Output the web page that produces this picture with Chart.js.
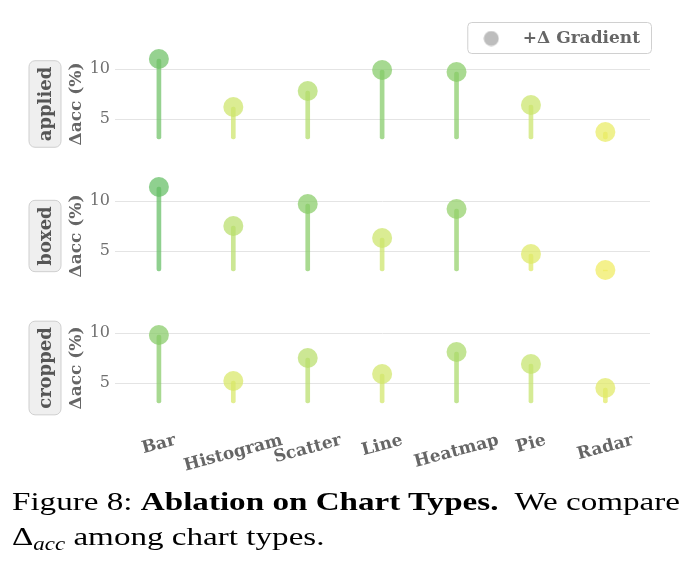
<!DOCTYPE html>
<html><head><meta charset="utf-8">
<script src="https://cdn.jsdelivr.net/npm/chart.js@4.4.1/dist/chart.umd.min.js"></script>
<style>
html,body{margin:0;padding:0;background:#fff;}
body{width:697px;height:572px;position:relative;overflow:hidden;}
canvas{position:absolute;left:0;}
#caption{position:absolute;left:12px;top:484px;font-family:'Liberation Serif','Times New Roman',serif;font-size:26px;line-height:35px;color:#000;white-space:nowrap;transform-origin:0 0;}
#caption .ln{display:inline-block;}
#caption sub{font-size:18px;vertical-align:-5px;line-height:0;}
</style></head><body>
<canvas id="c1" width="697" height="151" style="top:20px"></canvas>
<canvas id="c2" width="697" height="160" style="top:156px"></canvas>
<canvas id="c3" width="697" height="210" style="top:288px"></canvas>
<div id="caption"><span class="ln" id="l1">Figure 8: <b>Ablation on Chart Types.</b>&nbsp; We compare</span><br><span class="ln">Δ<sub><i>acc</i></sub> among chart types.</span></div>
<script>
const categories = ['Bar','Histogram','Scatter','Line','Heatmap','Pie','Radar'];
const appliedValues = [11.0, 6.2, 7.8, 9.9, 9.7, 6.4, 3.7];
const boxedValues   = [11.4, 7.5, 9.7, 6.3, 9.2, 4.7, 3.1];
const croppedValues = [9.8, 5.2, 7.5, 5.9, 8.1, 6.9, 4.5];
const stemBase = 3;
const yTickValues = [5, 10];
const panelNames = ['applied','boxed','cropped'];
const legendText = '+Δ Gradient';

const allVals = appliedValues.concat(boxedValues, croppedValues);
const vMin = Math.min(...allVals), vMax = Math.max(...allVals);
const stops = [[0,[240,236,96]],[0.45,[198,228,108]],[1,[100,190,100]]];
function colorFor(v, a){
  const t = Math.max(0, Math.min(1, (v - vMin)/(vMax - vMin)));
  let i = 0; while (i < stops.length-2 && t > stops[i+1][0]) i++;
  const [t0,c0] = stops[i], [t1,c1] = stops[i+1];
  const f = (t - t0)/(t1 - t0);
  const c = c0.map((x,k)=>Math.round(x + (c1[k]-x)*f));
  return `rgba(${c[0]},${c[1]},${c[2]},${a})`;
}

const FONT = "'DejaVu Serif', serif";

const sideBox = {
  id: 'sidebox',
  afterDraw(chart, args, opts){
    const {ctx, chartArea:a} = chart;
    const cy = (a.top + a.bottom)/2, cx = 45;
    ctx.save();
    ctx.font = `bold 18px ${FONT}`;
    const tw = ctx.measureText(opts.text).width;
    const h = tw + 12, w = 32;
    ctx.beginPath();
    ctx.roundRect(cx - w/2, cy - h/2, w, h, 6);
    ctx.fillStyle = '#efefef'; ctx.fill();
    ctx.strokeStyle = '#cfcfcf'; ctx.lineWidth = 1; ctx.stroke();
    ctx.translate(cx, cy); ctx.rotate(-Math.PI/2);
    ctx.fillStyle = '#555'; ctx.textAlign = 'center'; ctx.textBaseline = 'middle';
    ctx.fillText(opts.text, 0, 1);
    ctx.restore();
  }
};

const xLabels = {
  id: 'xlabels',
  afterDraw(chart){
    const {ctx, scales:{x, y}} = chart;
    ctx.save();
    ctx.font = `bold 17px ${FONT}`;
    ctx.fillStyle = '#666';
    const ang = 15*Math.PI/180;
    const top = y.getPixelForValue(stemBase) + 29;
    categories.forEach((c, i) => {
      const w = ctx.measureText(c).width;
      const hh = (w*Math.sin(ang) + 17*Math.cos(ang))/2;
      ctx.save();
      ctx.translate(x.getPixelForValue(i), top + hh);
      ctx.rotate(-ang);
      ctx.textAlign = 'center'; ctx.textBaseline = 'middle';
      ctx.fillText(c, 0, 0);
      ctx.restore();
    });
    ctx.restore();
  }
};

const legendBox = {
  id: 'legendbox',
  afterDraw(chart){
    const lg = chart.legend;
    if (!lg || !lg.legendHitBoxes || !lg.legendHitBoxes.length) return;
    const hb = lg.legendHitBoxes[0];
    const ctx = chart.ctx;
    const cy = hb.top + 8;
    const l = hb.left - 1, r = hb.left + hb.width + 11, t = cy - 16, b = cy + 15;
    ctx.save();
    ctx.beginPath(); ctx.roundRect(l + .5, t + .5, r - l, b - t, 4);
    ctx.strokeStyle = '#d0d0d0'; ctx.lineWidth = 1; ctx.stroke();
    ctx.restore();
  }
};

const dot = document.createElement('canvas');
dot.width = 16; dot.height = 16;
{ const g = dot.getContext('2d'); g.beginPath(); g.arc(8, 8, 7.5, 0, Math.PI*2); g.fillStyle = '#bdbdbd'; g.fill(); }

function makeChart(id, values, name, withLegend, withLabels, pad){
  const plugins = [sideBox];
  if (withLabels) plugins.push(xLabels);
  if (withLegend) plugins.push(legendBox);
  return new Chart(document.getElementById(id), {
    type: 'scatter',
    data: { datasets: [
      { type: 'bar', label: name + ' stem',
        data: values.map((v, i) => ({x: i, y: [stemBase, v]})),
        backgroundColor: values.map(v => colorFor(v, 0.72)),
        barThickness: 4, borderRadius: 2, borderSkipped: false, grouped: false,
        order: 2, clip: false },
      { type: 'scatter', label: legendText,
        data: values.map((v, i) => ({x: i, y: v})),
        backgroundColor: values.map(v => colorFor(v, 0.72)),
        pointRadius: 10, pointHoverRadius: 10, borderWidth: 0, order: 1, clip: false }
    ]},
    options: {
      responsive: false, animation: false, devicePixelRatio: 1,
      layout: { padding: pad },
      scales: {
        x: { type: 'linear', min: -0.59, max: 6.6, offset: false, display: false },
        y: { type: 'linear', min: 0, max: 12,
          afterBuildTicks: s => { s.ticks = yTickValues.map(v => ({value: v})); },
          afterFit: s => { s.width = 53; },
          grid: { color: '#e4e4e4', lineWidth: 1, drawTicks: false },
          border: { display: false },
          ticks: { padding: 5, color: '#707070', font: { family: FONT, size: 16 }, callback: v => String(v) },
          title: { display: true, text: 'Δacc (%)', color: '#666', padding: { top: 4, bottom: 0 },
                   font: { family: FONT, size: 17, weight: 'bold' } }
        }
      },
      plugins: {
        tooltip: { enabled: false },
        sidebox: { text: name },
        legend: withLegend ? {
          display: true, position: 'top', align: 'end',
          onClick: null,
          labels: {
            usePointStyle: true, pointStyleWidth: 46, padding: 10,
            color: '#666', font: { family: FONT, size: 17, weight: 'bold' },
            generateLabels: () => [{ text: legendText, pointStyle: dot, fillStyle: '#bdbdbd',
              strokeStyle: 'rgba(0,0,0,0)', lineWidth: 0, hidden: false, datasetIndex: 1, fontColor: '#666' }]
          }
        } : { display: false }
      }
    },
    plugins
  });
}

function fitRange(chart, y10abs, canvasTop){
  const a = chart.chartArea;
  const y10 = y10abs - canvasTop;
  chart.options.scales.y.max = 10 + (y10 - a.top)/10;
  chart.options.scales.y.min = 10 - (a.bottom - y10)/10;
  chart.update();
}

function build(){
  const c1 = makeChart('c1', appliedValues, panelNames[0], true, false, {top: 0, bottom: 20, left: 62, right: 47});
  const lh = c1.legend.height;
  c1.options.layout.padding.bottom = Math.max(0, lh - 17);
  c1.update();
  fitRange(c1, 69, 20);
  const c2 = makeChart('c2', boxedValues, panelNames[1], false, false, {top: 20, bottom: 20, left: 62, right: 47});
  fitRange(c2, 201, 156);
  const c3 = makeChart('c3', croppedValues, panelNames[2], false, true, {top: 20, bottom: 70, left: 62, right: 47});
  fitRange(c3, 333, 288);
  const cap = document.getElementById('caption');
  const w = document.getElementById('l1').getBoundingClientRect().width;
  if (w > 0) cap.style.transform = `scaleX(${668 / w})`;
}
if (document.fonts && document.fonts.ready) document.fonts.ready.then(build); else build();
</script>
</body></html>
